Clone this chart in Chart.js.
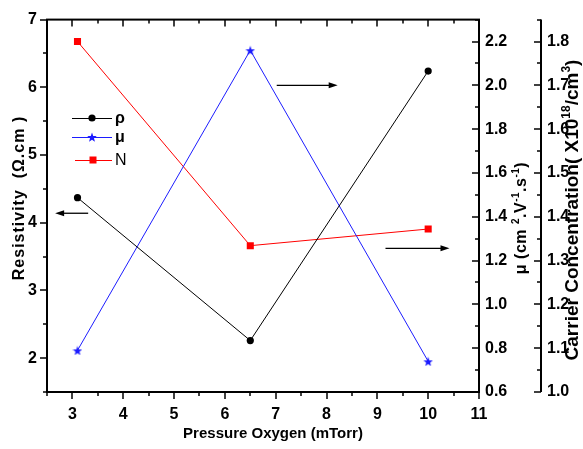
<!DOCTYPE html>
<html>
<head>
<meta charset="utf-8">
<script src="https://cdn.jsdelivr.net/npm/chart.js@4.4.0/dist/chart.umd.min.js"></script>
<style>
    html, body { margin: 0; padding: 0; background: #fff; }
    #wrap { width: 583px; height: 449px; position: relative; }
</style>
</head>
<body>
<div id="wrap"><canvas id="chart"></canvas></div>
<script>
// Data
const pressure = [3.1, 6.5, 10];
const resistivity = [4.37, 2.26, 6.24];
const mobility = [0.79, 2.16, 0.74];
const carrierConc = [1.80, 1.334, 1.372];

// Tick labels
const xTicks = [3, 4, 5, 6, 7, 8, 9, 10, 11];
const rhoTicks = [2, 3, 4, 5, 6, 7];
const muTicks = [0.6, 0.8, 1.0, 1.2, 1.4, 1.6, 1.8, 2.0, 2.2];
const nTicks = [1.0, 1.1, 1.2, 1.3, 1.4, 1.5, 1.6, 1.7, 1.8];

const FONT = '"Liberation Sans", Arial, sans-serif';
const BLUE = '#1c1cff';
const RED = '#ff0000';

// filled 5-point star for the mobility series
function makeStar(size, color) {
    const c = document.createElement('canvas');
    c.width = c.height = size;
    const g = c.getContext('2d');
    const cx = size / 2, cy = size / 2 + 0.6, R = size / 2, r = R * 0.42;
    g.fillStyle = color;
    g.beginPath();
    for (let i = 0; i < 10; i++) {
        const a = -Math.PI / 2 + i * Math.PI / 5;
        const rad = i % 2 ? r : R;
        g.lineTo(cx + rad * Math.cos(a), cy + rad * Math.sin(a));
    }
    g.closePath();
    g.fill();
    return c;
}
const starImg = makeStar(10, BLUE);

const toPts = (ys) => pressure.map((x, i) => ({ x: x, y: ys[i] }));
const fixTicks = (vals) => (scale) => { scale.ticks = vals.map(v => ({ value: v })); };
const fixSize = (w, h) => (scale) => {
    if (w != null) scale.width = w;
    if (h != null) scale.height = h;
};

// draw rich text (with superscripts) centred at 0,0 in the current transform
function richText(ctx, parts, size, weight, spacing) {
    ctx.letterSpacing = (spacing || 0) + 'px';
    let total = 0;
    const sizes = parts.map(p => {
        ctx.font = weight + ' ' + (p.sup ? Math.round(size * 0.62) : size) + 'px ' + FONT;
        const w = ctx.measureText(p.t).width;
        total += w;
        return w;
    });
    let x = -total / 2;
    ctx.textBaseline = 'alphabetic';
    ctx.textAlign = 'left';
    parts.forEach((p, i) => {
        ctx.font = weight + ' ' + (p.sup ? Math.round(size * 0.62) : size) + 'px ' + FONT;
        ctx.fillText(p.t, x, p.sup ? -size * 0.42 : 0);
        x += sizes[i];
    });
    ctx.letterSpacing = '0px';
}

function arrow(ctx, x1, y1, x2, y2) {
    const dir = Math.sign(x2 - x1);
    ctx.beginPath();
    ctx.moveTo(x1, y1);
    ctx.lineTo(x2 - dir * 6, y2);
    ctx.stroke();
    ctx.beginPath();
    ctx.moveTo(x2, y2);
    ctx.lineTo(x2 - dir * 9, y2 - 3);
    ctx.lineTo(x2 - dir * 9, y2 + 3);
    ctx.closePath();
    ctx.fill();
}

const decorPlugin = {
    id: 'decor',
    afterDraw(chart) {
        const ctx = chart.ctx;
        const a = chart.chartArea;
        const sx = chart.scales.x, sy = chart.scales.y, sm = chart.scales.yMu, sn = chart.scales.yN;
        ctx.save();
        ctx.strokeStyle = '#000';
        ctx.fillStyle = '#000';

        // frame
        ctx.lineWidth = 2;
        ctx.strokeRect(a.left, a.top, a.right - a.left, a.bottom - a.top);
        // third axis line
        ctx.beginPath();
        ctx.moveTo(sn.left, a.top);
        ctx.lineTo(sn.left, a.bottom);
        ctx.stroke();

        ctx.lineWidth = 1.5;
        const hTick = (scale, y0, dy, step, major) => {
            for (let v = scale.min; v <= scale.max + 1e-9; v += step) {
                const isMajor = Math.abs(v / major - Math.round(v / major)) < 1e-6;
                const x = Math.round(scale.getPixelForValue(v));
                ctx.beginPath();
                ctx.moveTo(x, y0);
                ctx.lineTo(x, y0 + dy * (isMajor ? 7 : 4));
                ctx.stroke();
            }
        };
        const vTick = (scale, x0, dx, step, major, from) => {
            for (let v = from; v <= scale.max + 1e-9; v += step) {
                const isMajor = Math.abs(v / major - Math.round(v / major)) < 1e-6;
                const y = Math.round(scale.getPixelForValue(v));
                ctx.beginPath();
                ctx.moveTo(x0, y);
                ctx.lineTo(x0 + dx * (isMajor ? 7 : 4), y);
                ctx.stroke();
            }
        };
        hTick(sx, a.bottom, 1, 0.5, 1);   // bottom, outward
        hTick(sx, a.top, 1, 0.5, 1);      // top, inward
        vTick(sy, a.left, -1, 0.5, 1, sy.min);     // left, outward
        vTick(sm, a.right, -1, 0.1, 0.2, sm.min);  // mu, inward
        vTick(sn, sn.left, -1, 0.05, 0.1, sn.min); // N, outward

        // arrows pointing to each series' axis
        ctx.lineWidth = 1.3;
        arrow(ctx, sx.getPixelForValue(3.31), sy.getPixelForValue(4.14), sx.getPixelForValue(2.66), sy.getPixelForValue(4.14));
        arrow(ctx, sx.getPixelForValue(7.02), sm.getPixelForValue(2.0), sx.getPixelForValue(8.22), sm.getPixelForValue(2.0));
        arrow(ctx, sx.getPixelForValue(9.16), sn.getPixelForValue(1.328), sx.getPixelForValue(10.42), sn.getPixelForValue(1.328));

        // legend
        const rows = [
            { label: 'ρ', y: 118, color: '#000', kind: 'circle', weight: 'bold' },
            { label: 'μ', y: 137, color: BLUE, kind: 'star', weight: 'bold' },
            { label: 'N', y: 160, color: RED, kind: 'square', weight: 'normal' }
        ];
        rows.forEach(r => {
            ctx.strokeStyle = r.color;
            ctx.fillStyle = r.color;
            ctx.lineWidth = 1;
            ctx.beginPath();
            ctx.moveTo(r.kind === 'square' ? 75 : 72, r.y + 0.5);
            ctx.lineTo(112, r.y + 0.5);
            ctx.stroke();
            if (r.kind === 'circle') {
                ctx.beginPath();
                ctx.arc(92, r.y, 3.6, 0, Math.PI * 2);
                ctx.fill();
            } else if (r.kind === 'star') {
                ctx.drawImage(starImg, 87, r.y - 5);
            } else {
                ctx.fillRect(89.5, r.y - 3.5, 7, 7);
            }
            ctx.fillStyle = '#000';
            ctx.font = r.weight + ' 16px ' + FONT;
            ctx.textBaseline = 'middle';
            ctx.textAlign = 'left';
            ctx.fillText(r.label, 115, r.y + 1);
        });

        // axis titles
        ctx.fillStyle = '#000';
        ctx.save();
        ctx.translate(273, 438);
        richText(ctx, [{ t: 'Pressure Oxygen (mTorr)' }], 15, 'bold', 0);
        ctx.restore();

        ctx.save();
        ctx.translate(24, 198);
        ctx.rotate(-Math.PI / 2);
        richText(ctx, [{ t: 'Resistivity  (Ω.cm )' }], 16, 'bold', 1);
        ctx.restore();

        ctx.save();
        ctx.translate(526, 218);
        ctx.rotate(-Math.PI / 2);
        richText(ctx, [
            { t: 'μ (cm ' }, { t: '2', sup: true }, { t: '.V' }, { t: '-1', sup: true },
            { t: '.s' }, { t: '-1', sup: true }, { t: ')' }
        ], 16, 'bold', 0.5);
        ctx.restore();

        ctx.save();
        ctx.translate(578, 210);
        ctx.rotate(-Math.PI / 2);
        richText(ctx, [
            { t: 'Carrier Concentration( X10' }, { t: '18', sup: true }, { t: '/cm' },
            { t: '3', sup: true }, { t: ')' }
        ], 19, 'bold', 0);
        ctx.restore();

        ctx.restore();
    }
};

const tickFont = { family: FONT, size: 16, weight: 'bold' };

new Chart(document.getElementById('chart'), {
    type: 'line',
    data: {
        datasets: [
            {
                label: 'ρ',
                data: toPts(resistivity),
                yAxisID: 'y',
                borderColor: '#000',
                backgroundColor: '#000',
                borderWidth: 1,
                pointStyle: 'circle',
                pointRadius: 3.6,
                pointBorderWidth: 0
            },
            {
                label: 'μ',
                data: toPts(mobility),
                yAxisID: 'yMu',
                borderColor: BLUE,
                backgroundColor: BLUE,
                borderWidth: 1,
                pointStyle: starImg,
                pointRadius: 5
            },
            {
                label: 'N',
                data: toPts(carrierConc),
                yAxisID: 'yN',
                borderColor: RED,
                backgroundColor: RED,
                borderWidth: 1,
                pointStyle: 'rect',
                pointRadius: 5,
                pointBorderWidth: 0
            }
        ]
    },
    options: {
        responsive: true,
        maintainAspectRatio: false,
        animation: false,
        layout: { padding: { top: 19, left: 0, right: 0, bottom: 0 } },
        plugins: {
            legend: { display: false },
            tooltip: { enabled: false }
        },
        scales: {
            x: {
                type: 'linear',
                position: 'bottom',
                min: 2.5,
                max: 11,
                afterBuildTicks: fixTicks(xTicks),
                afterFit: fixSize(null, 57),
                grid: { display: false, drawTicks: false },
                border: { display: false },
                ticks: { font: tickFont, color: '#000', padding: 13, maxRotation: 0 }
            },
            y: {
                type: 'linear',
                position: 'left',
                min: 1.5,
                max: 7,
                afterBuildTicks: fixTicks(rhoTicks),
                afterFit: fixSize(47, null),
                grid: { display: false, drawTicks: false },
                border: { display: false },
                ticks: { font: tickFont, color: '#000', padding: 10 }
            },
            yMu: {
                type: 'linear',
                position: 'right',
                weight: 0,
                min: 0.6,
                max: 2.3,
                afterBuildTicks: fixTicks(muTicks),
                afterFit: fixSize(62, null),
                grid: { display: false, drawTicks: false },
                border: { display: false },
                ticks: { font: tickFont, color: '#000', padding: 6, callback: v => v.toFixed(1) }
            },
            yN: {
                type: 'linear',
                position: 'right',
                weight: 1,
                min: 1.0,
                max: 1.85,
                afterBuildTicks: fixTicks(nTicks),
                afterFit: fixSize(42, null),
                grid: { display: false, drawTicks: false },
                border: { display: false },
                ticks: { font: tickFont, color: '#000', padding: 6, callback: v => v.toFixed(1) }
            }
        }
    },
    plugins: [decorPlugin]
});
</script>
</body>
</html>
